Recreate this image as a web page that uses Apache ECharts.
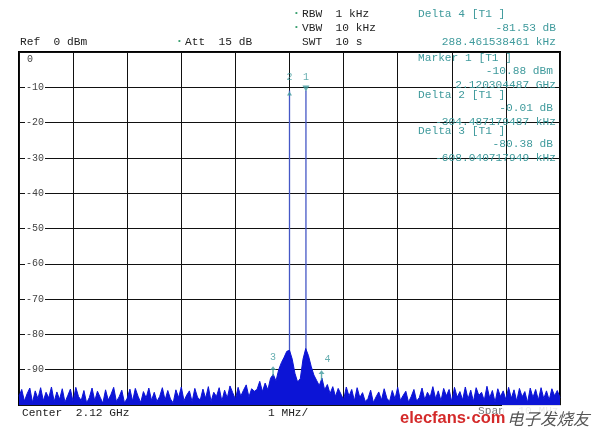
<!DOCTYPE html>
<html><head><meta charset="utf-8">
<script src="https://cdn.jsdelivr.net/npm/echarts@6/dist/echarts.min.js"></script>
<style>html,body{margin:0;padding:0;background:#fff}#c{width:603px;height:439px}</style>
</head><body><div id="c"></div>
<script>
// ---- data ----
const freqStart = -5;      // MHz offset from center 2.12 GHz
const freqStep = 0.05;     // MHz per trace point
const traceLevels = [
-97.5,-95.6,-98.9,-96.8,-95.2,-99.3,-96.0,-98.2,-95.1,-98.8,
-96.4,-98.0,-94.9,-99.0,-96.3,-98.4,-95.4,-99.2,-97.4,-95.5,
-99.1,-95.0,-97.6,-98.7,-95.9,-99.4,-97.9,-95.2,-98.8,-96.1,
-97.8,-99.5,-95.7,-98.6,-97.0,-95.0,-99.0,-97.7,-95.8,-99.4,
-98.1,-95.5,-98.9,-95.3,-97.5,-99.3,-96.2,-98.0,-95.2,-98.7,
-96.4,-99.0,-97.6,-95.1,-98.6,-95.9,-98.3,-99.4,-95.7,-97.9,
-94.9,-98.8,-97.2,-96.0,-99.1,-95.3,-97.8,-98.6,-95.5,-98.1,
-94.8,-99.0,-96.4,-97.6,-95.1,-98.9,-95.8,-98.0,-94.6,-96.5,
-98.4,-95.0,-97.5,-95.8,-94.3,-97.7,-95.4,-96.1,
-95.6,-93.3,-96.2,-93.8,-95.7,-92.4,-91.3,-93.2,-90.0,-88.0,-86.5,-84.8,-84.5,-87.0,-91.0,-93.5,-92.5,-87.0,-84.0,-86.0,-89.0,-91.5,-93.0,-94.5,-92.4,
-95.7,-94.2,-96.8,-94.8,-97.6,-95.3,-96.9,-98.5,-94.9,-97.5,
-95.6,-98.8,-95.1,-97.9,-96.5,-99.0,-98.2,-95.8,-99.3,-97.7,
-96.3,-98.6,-95.4,-98.1,-99.0,-95.9,-98.3,-95.0,-98.7,-97.3,
-96.1,-99.2,-97.6,-95.6,-98.9,-97.9,-95.2,-98.5,-96.4,-97.8,
-94.8,-98.2,-96.0,-98.8,-95.3,-97.4,-95.6,-99.1,-95.0,-97.8,
-96.2,-98.6,-94.9,-98.3,-95.8,-99.0,-95.1,-97.3,-96.4,-98.7,
-94.7,-98.0,-95.9,-99.2,-95.4,-97.6,-96.0,-98.5,-95.0,-98.1,
-95.7,-98.9,-95.3,-97.7,-96.2,-99.3,-95.2,-97.9,-95.6,-98.6,
-95.1,-98.2,-96.0,-98.6,-95.4,-97.4,-95.9,-97.9
];
const carrierFreqs = [0.0, 0.304];
const carrierLevels = [-10.89, -10.88];
const markerNames = ['1', '2', '3', '4'];
const markerFreqs = [0.304, 0.0, -0.304, 0.592];
const markerLevels = [-10.88, -10.89, -91.26, -92.41];
const yTickLabels = ['0','-10','-20','-30','-40','-50','-60','-70','-80','-90'];
const headerLeft = ['Ref  0 dBm', 'Att  15 dB'];
const headerMid = ['RBW  1 kHz', 'VBW  10 kHz', 'SWT  10 s'];
const delta4 = ['Delta 4 [T1 ]', '-81.53 dB', '288.461538461 kHz'];
const markerBox = [
  ['Marker 1 [T1 ]', '-10.88 dBm', '2.120304487 GHz'],
  ['Delta 2 [T1 ]', '-0.01 dB', '-304.487179487 kHz'],
  ['Delta 3 [T1 ]', '-80.38 dB', '-608.040717949 kHz']
];
const footer = ['Center  2.12 GHz', '1 MHz/', 'Span  10 MHz'];

// ---- chart ----
const MONO = '"Liberation Mono", "DejaVu Sans Mono", monospace';
const TEAL = '#3f9a9c';
const FS = '11.2px ';
const chart = echarts.init(document.getElementById('c'), null, {renderer: 'canvas'});

const traceData = traceLevels.map((v, i) => [freqStart + i * freqStep, v]);
const series = [];
carrierFreqs.forEach((f, i) => {
  series.push({
    type: 'line', z: 1, symbol: 'none', silent: true,
    data: [[f, -100], [f, carrierLevels[i]]],
    lineStyle: {color: '#4457c6', width: 1.3}
  });
});
series.push({
  type: 'line', z: 2, symbol: 'none', silent: true,
  data: traceData,
  lineStyle: {color: '#0c14d6', width: 1},
  areaStyle: {color: '#0c14d6', opacity: 1, origin: 'start'}
});
const arrow = 'path://M5,0 L10,6 L6.2,6 L6.2,16 L3.8,16 L3.8,6 L0,6 Z';
const markerData = markerFreqs.map((f, i) => {
  const base = {value: [f, markerLevels[i]], name: markerNames[i]};
  if (i === 0) {
    return Object.assign(base, {symbol: 'triangle', symbolRotate: 180, symbolSize: [7, 6], symbolOffset: [0, -2],
      label: {show: true, position: 'top', distance: 3}});
  } else if (i === 1) {
    return Object.assign(base, {symbol: 'triangle', symbolSize: [5, 4], symbolOffset: [0, 3],
      label: {show: true, position: 'top', distance: 9}});
  } else if (i === 2) {
    return Object.assign(base, {symbol: arrow, symbolSize: [6, 10], symbolOffset: [0, -3],
      label: {show: true, position: 'top', distance: 4}});
  }
  return Object.assign(base, {symbol: arrow, symbolSize: [6, 10], symbolOffset: [0, -3],
    label: {show: true, position: [6, -16]}});
});
series.push({
  type: 'scatter', z: 5, silent: true,
  data: markerData,
  itemStyle: {color: TEAL},
  label: {color: TEAL, fontFamily: MONO, fontSize: 10, formatter: p => p.name}
});

function txt(x, y, s, opt) {
  return {
    type: 'text', x: x, y: y, z: 102, silent: true,
    style: Object.assign({text: s, fill: '#222', font: FS + MONO, align: 'left', verticalAlign: 'middle'}, opt || {})
  };
}
const g = [];
g.push(txt(20, 42, headerLeft[0]));
g.push(txt(177, 41, '•', {fill: '#3aa070', font: '8px ' + MONO}));
g.push(txt(185, 42, headerLeft[1]));
g.push(txt(294, 13, '•', {fill: '#3aa070', font: '8px ' + MONO}));
g.push(txt(302, 14, headerMid[0]));
g.push(txt(294, 27, '•', {fill: '#3aa070', font: '8px ' + MONO}));
g.push(txt(302, 28, headerMid[1]));
g.push(txt(302, 42, headerMid[2]));
g.push(txt(418, 14, delta4[0], {fill: TEAL}));
g.push(txt(556, 28, delta4[1], {fill: TEAL, align: 'right'}));
g.push(txt(556, 42, delta4[2], {fill: TEAL, align: 'right'}));
const boxY = [58, 95, 131];
markerBox.forEach((rows, k) => {
  const y0 = boxY[k];
  g.push(txt(418, y0, rows[0], {fill: TEAL}));
  g.push(txt(553, y0 + 13, rows[1], {fill: TEAL, align: 'right'}));
  g.push(txt(556, y0 + 27, rows[2], {fill: TEAL, align: 'right'}));
});
g.push(txt(22, 413, footer[0]));
g.push(txt(268, 413, footer[1]));
g.push(txt(478, 411, footer[2], {fill: '#777'}));
// watermark
g.push({type: 'rect', z: 103, silent: true, shape: {x: 502, y: 405, width: 95, height: 27},
  style: {fill: 'rgba(255,255,255,0.85)'}});
g.push(Object.assign(txt(400, 418, 'elecfans·com', {fill: '#d42a2a', font: 'bold 16.5px "Liberation Sans", Arial, sans-serif'}), {z: 104}));
g.push(Object.assign(txt(507, 419, '电子发烧友', {fill: '#555', font: 'italic 16.5px "Noto Sans CJK SC", sans-serif'}), {z: 104}));

chart.setOption({
  animation: false,
  backgroundColor: '#fff',
  grid: {left: 19, right: 43, top: 52, bottom: 34, show: true, borderColor: '#000', borderWidth: 2, backgroundColor: 'transparent'},
  xAxis: {
    type: 'value', min: -5, max: 5, interval: 1,
    axisLine: {show: false}, axisTick: {show: false}, axisLabel: {show: false},
    splitLine: {show: true, lineStyle: {color: '#111', width: 1}}
  },
  yAxis: {
    type: 'value', min: -100, max: 0, interval: 10,
    axisLine: {show: false}, axisTick: {show: false},
    splitLine: {show: true, lineStyle: {color: '#111', width: 1}},
    axisLabel: {
      inside: true, margin: 6, color: '#444', fontFamily: MONO, fontSize: 10,
      formatter: v => {
        const s = String(Math.round(v));
        if (!yTickLabels.includes(s)) return '';
        return s === '0' ? '{t|' + s + '}' : '{n|' + s + '}';
      },
      rich: {
        t: {padding: [15, 0, 0, 2], color: '#444', fontFamily: MONO, fontSize: 10},
        n: {backgroundColor: '#fff', padding: [0, 1, 0, 1], color: '#444', fontFamily: MONO, fontSize: 10}
      }
    }
  },
  series: series,
  graphic: g
});
</script></body></html>
